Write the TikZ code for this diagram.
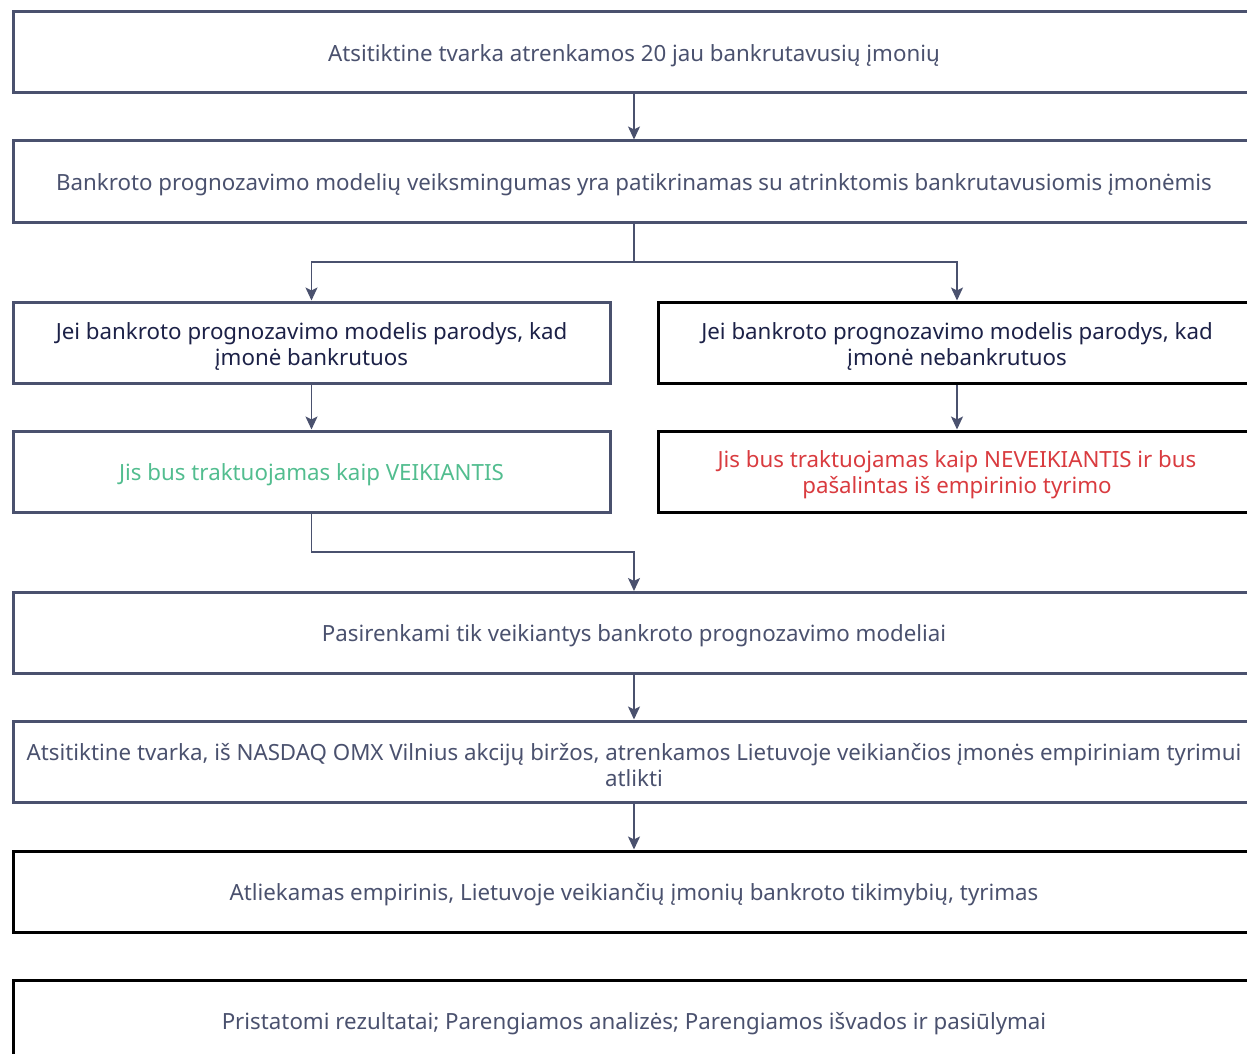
\documentclass[tikz,border=0pt]{standalone}
\usepackage{fontspec}
\setmainfont{Noto Sans}
\usetikzlibrary{arrows.meta}

\definecolor{slate}{RGB}{74,81,110}
\definecolor{navy}{RGB}{28,33,71}
\definecolor{okgreen}{RGB}{82,189,143}
\definecolor{badred}{RGB}{217,59,63}

\tikzset{
  box/.style={draw=slate, line width=3pt, minimum height=81pt, inner sep=0pt,
    align=center, text=slate, font=\fontsize{22.3}{26}\selectfont,
    execute at begin node={\rule{0pt}{23pt}}},
  twoline/.style={execute at begin node={\rule{0pt}{50pt}}},
  wide/.style={box, minimum width=1242pt},
  half/.style={box, minimum width=597pt},
  dark/.style={draw=black},
  link/.style={draw=slate, line width=1.5pt, -{Stealth[length=13pt, width=12pt, inset=3pt]}}
}

\begin{document}
\begin{tikzpicture}[x=1pt, y=-1pt]
    \useasboundingbox (0,0) rectangle (1247,1054);

    \node[wide] (pick) at (634,52.5) {Atsitiktine tvarka atrenkamos 20 jau bankrutavusių įmonių};
    \node[wide] (check) at (634,181.5) {Bankroto prognozavimo modelių veiksmingumas yra patikrinamas su atrinktomis bankrutavusiomis įmonėmis};

    \node[half, twoline, text=navy] (yes) at (311.5,342.5) {Jei bankroto prognozavimo modelis parodys, kad\\įmonė bankrutuos};
    \node[half, twoline, dark, text=navy] (no) at (957,342.5) {Jei bankroto prognozavimo modelis parodys, kad\\įmonė nebankrutuos};
    \node[half, text=okgreen] (alive) at (311.5,471.5) {Jis bus traktuojamas kaip VEIKIANTIS};
    \node[half, twoline, dark, text=badred] (dead) at (957,471.5) {Jis bus traktuojamas kaip NEVEIKIANTIS ir bus\\pašalintas iš empirinio tyrimo};

    \node[wide] (select) at (634,633) {Pasirenkami tik veikiantys bankroto prognozavimo modeliai};
    \node[wide, twoline] (sample) at (634,761.5) {Atsitiktine tvarka, iš NASDAQ OMX Vilnius akcijų biržos, atrenkamos Lietuvoje veikiančios įmonės empiriniam tyrimui\\atlikti};
    \node[wide, dark] (study) at (634,891.5) {Atliekamas empirinis, Lietuvoje veikiančių įmonių bankroto tikimybių, tyrimas};
    \node[wide, dark] (results) at (634,1020.5) {Pristatomi rezultatai; Parengiamos analizės; Parengiamos išvados ir pasiūlymai};

    % branch and merge points
    \coordinate (split) at (634,262);
    \coordinate (merge) at (634,552);

    \draw[link] (pick) -- (check);
    \draw[link] (check) -- (split) -| (yes);
    \draw[link] (split) -| (no);
    \draw[link] (yes) -- (alive);
    \draw[link] (no) -- (dead);
    \draw[link] (alive) |- (merge) -- (select);
    \draw[link] (select) -- (sample);
    \draw[link] (sample) -- (study);
\end{tikzpicture}
\end{document}
